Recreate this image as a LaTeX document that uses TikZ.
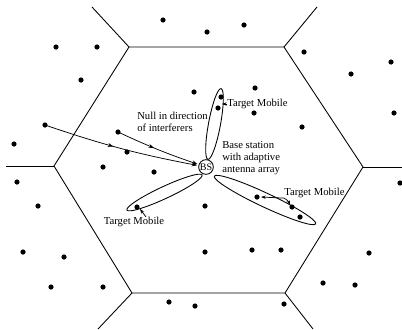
\documentclass[tikz,border=0pt]{standalone}
\usepackage{fontspec}
\setmainfont{Liberation Serif}
\usetikzlibrary{positioning,arrows.meta,decorations.markings}
\tikzset{
  cellline/.style={line width=0.65pt},
  lobeline/.style={line width=0.65pt},
  mobiledot/.style={fill=black},
  interfarrow/.style={-{Stealth[length=4pt,width=3pt]}, line width=0.55pt, shorten >=1pt,
    postaction={decorate},
    decoration={markings, mark=at position 0.45 with {\arrow{Stealth[length=4pt,width=3pt]}}}},
  tmarrow/.style={-{Stealth[length=3.5pt,width=2.5pt]}, line width=0.55pt},
  lbl/.style={font=\fontsize{8}{9}\selectfont, inner sep=0pt, align=left},
  bsnode/.style={draw, circle, line width=0.65pt, minimum size=11pt, inner sep=0pt, font=\fontsize{7.5}{8}\selectfont}
}
\begin{document}
\begin{tikzpicture}[x=0.75pt, y=-0.75pt]
  \useasboundingbox (0,0) rectangle (402,329);
  % central cell and the borders of its neighbours
  \coordinate (h1) at (129,47);
  \coordinate (h2) at (284,47);
  \coordinate (h3) at (363,167);
  \coordinate (h4) at (285,293);
  \coordinate (h5) at (132,293);
  \coordinate (h6) at (54,166);
  \coordinate (o1) at (92,7);
  \coordinate (o2) at (317,7);
  \coordinate (o3) at (402,167);
  \coordinate (o4) at (313,329);
  \coordinate (o5) at (98,329);
  \coordinate (o6) at (6,166);
  \draw[cellline] (h1) -- (h2) -- (h3) -- (h4) -- (h5) -- (h6) -- cycle;
  \foreach \i in {1,...,6}
    \draw[cellline] (h\i) -- (o\i);
  % mobiles
  \foreach \p in {(163,20),(207,32),(244,25),(56,47),(97,47),(81,80),
      (304,52),(391,62),(351,74),(394,113),(194,92),(255,88),(254,113),(302,127),
      (218,108),(221,97),(45,125),(118,132),(127,152),(103,167),(154,172),(14,144),
      (17,182),(38,206),(137,207),(205,206),(257,197),(292,207),(300,217),
      (205,252),(252,250),(281,250),(23,252),(64,257),(51,287),(103,287),
      (369,253),(323,283),(355,285),(400,183),(169,302),(195,306),(284,304)}
    \fill[mobiledot] \p circle [radius=2.6];
  % base station and beams
  \node[bsnode] (bs) at (206,167) {BS};
  \draw[lobeline, shift={(214.5,124)}, rotate=79.5] (0,0) ellipse [x radius=36, y radius=6];
  \draw[lobeline, shift={(164.5,192.5)}, rotate=25] (0,0) ellipse [x radius=41.5, y radius=6];
  \draw[lobeline, shift={(265,200)}, rotate=-25.2] (0,0) ellipse [x radius=56, y radius=7];
  % interferers
  \coordinate (intf1) at (45,125);
  \coordinate (intf2) at (118,132);
  \draw[interfarrow] (intf1) to[bend right=4] (bs);
  \draw[interfarrow] (intf2) to[bend right=3] (bs);
  % labels
  \node[lbl, anchor=west] (tmtop) at (227,104) {Target Mobile};
  \node[lbl, anchor=west] (nulltxt) at (137,122) {Null in direction\\of interferers};
  \node[lbl, anchor=west] (bstxt) at (222,158) {Base station\\with adaptive\\antenna array};
  \node[lbl, anchor=west] (tmright) at (284,193) {Target Mobile};
  \node[lbl] (tmleft) at (134,222) {Target Mobile};
  \coordinate (ptop) at (222,104);
  \coordinate (pr1) at (261,197);
  \coordinate (pr2) at (290,205);
  \coordinate (pleft) at (140,209);
  \draw[tmarrow] (tmtop.west) -- (ptop);
  \draw[tmarrow] (tmright.south west) -- (pr1);
  \draw[tmarrow] (tmright.south west) to[bend left=20] (pr2);
  \draw[tmarrow] ([xshift=9pt]tmleft.north) -- (pleft);
\end{tikzpicture}
\end{document}
